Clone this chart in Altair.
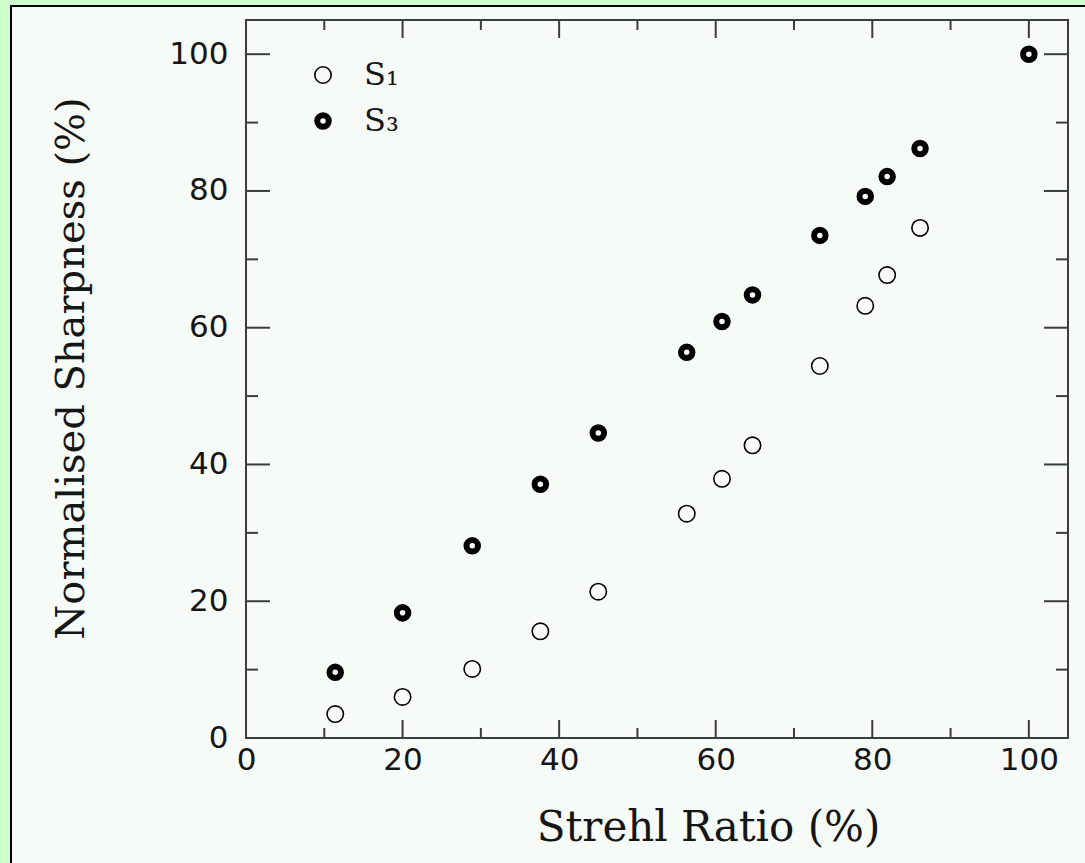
import altair as alt
import pandas as pd

# ---- data ----
strehl = [11.4, 20.0, 28.9, 37.6, 45.0, 56.3, 60.8, 64.7, 73.3, 79.1, 81.9, 86.1, 100.0]
s1_vals = [3.5, 6.0, 10.1, 15.6, 21.4, 32.8, 37.9, 42.8, 54.4, 63.2, 67.7, 74.6]
s3_vals = [9.6, 18.3, 28.1, 37.1, 44.6, 56.4, 60.9, 64.8, 73.5, 79.2, 82.1, 86.2, 100.0]
series_names = ["S₁", "S₃"]
major_ticks = [0, 20, 40, 60, 80, 100]
minor_ticks = [10, 30, 50, 70, 90]

W, H = 822, 718
AX = "#3c3c3c"
TXT = "#151515"

pts = pd.DataFrame({
    "strehl": strehl[:len(s1_vals)] + strehl,
    "sharp": s1_vals + s3_vals,
    "series": [series_names[0]] * len(s1_vals) + [series_names[1]] * len(s3_vals),
})
major_df = pd.DataFrame({"v": major_ticks})
minor_df = pd.DataFrame({"v": minor_ticks})
one = pd.DataFrame({"k": [0]})

xs = alt.Scale(domain=[0, 105], nice=False, zero=False)
ys = alt.Scale(domain=[0, 105], nice=False, zero=False)

xaxis = alt.Axis(values=major_ticks, format="d", domain=False, ticks=False, grid=False, zindex=2,
                 labelFont="DejaVu Sans", labelFontSize=31, labelColor=TXT, labelPadding=7,
                 labelFlush=False, labelOverlap=False, labelBound=False,
                 title="Strehl Ratio (%)", titleFont="DejaVu Serif", titleFontSize=42,
                 titleFontWeight="normal", titleColor=TXT, titleX=462, titleY=102,
                 titleAlign="center", titleBaseline="alphabetic")
yaxis = alt.Axis(values=major_ticks, format="d", domain=False, ticks=False, grid=False, zindex=2,
                 labelFont="DejaVu Sans", labelFontSize=31, labelColor=TXT, labelPadding=18,
                 labelFlush=False, labelOverlap=False, labelBound=False,
                 title="Normalised Sharpness (%)", titleFont="DejaVu Serif", titleFontSize=40,
                 titleFontWeight="normal", titleColor=TXT, titleAngle=270, titleX=-163, titleY=348,
                 titleAlign="center", titleBaseline="alphabetic")

leg = alt.Legend(title=None, orient="none", legendX=61, legendY=39, padding=0,
                 labelFont="DejaVu Serif", labelFontSize=32, labelColor=TXT, labelOffset=25,
                 rowPadding=12, symbolType="circle", symbolStrokeColor="black")

panel = alt.Chart(one).mark_rect(fill="#f6fbf8", stroke="black", strokeWidth=2).encode(
    x=alt.value(-235), x2=alt.value(W + 300), y=alt.value(-14), y2=alt.value(H + 300))

points = alt.Chart(pts).mark_point(shape="circle", filled=False, color="black", opacity=1).encode(
    x=alt.X("strehl:Q", scale=xs, axis=xaxis),
    y=alt.Y("sharp:Q", scale=ys, axis=yaxis),
    size=alt.Size("series:N", scale=alt.Scale(domain=series_names, range=[269, 133]), legend=leg),
    strokeWidth=alt.StrokeWidth("series:N", scale=alt.Scale(domain=series_names, range=[1.6, 6]), legend=leg),
)


def vticks(df, length):
    bottom = alt.Chart(df).mark_rule(color=AX, strokeWidth=2).encode(
        x=alt.X("v:Q", scale=xs, axis=xaxis), y=alt.value(H), y2=alt.value(H - length))
    top = alt.Chart(df).mark_rule(color=AX, strokeWidth=2).encode(
        x=alt.X("v:Q", scale=xs, axis=xaxis), y=alt.value(0), y2=alt.value(length))
    return [bottom, top]


def hticks(df, length):
    left = alt.Chart(df).mark_rule(color=AX, strokeWidth=2).encode(
        y=alt.Y("v:Q", scale=ys, axis=yaxis), x=alt.value(0), x2=alt.value(length))
    right = alt.Chart(df).mark_rule(color=AX, strokeWidth=2).encode(
        y=alt.Y("v:Q", scale=ys, axis=yaxis), x=alt.value(W), x2=alt.value(W - length))
    return [left, right]


frame = alt.Chart(one).mark_rect(fillOpacity=0, stroke=AX, strokeWidth=2).encode(
    x=alt.value(0), x2=alt.value(W), y=alt.value(0), y2=alt.value(H))

layers = [panel] + vticks(major_df, 18) + vticks(minor_df, 10) + hticks(major_df, 24) + hticks(minor_df, 12) + [frame, points]

chart = alt.layer(*layers).properties(
    width=W, height=H,
    autosize=alt.AutoSizeParams(type="none"),
    padding={"left": 246, "top": 20, "right": 17, "bottom": 125},
).configure(background="#ccffcc").configure_view(strokeWidth=0)

chart.save("out.html", embed_options={"renderer": "svg", "actions": False})
